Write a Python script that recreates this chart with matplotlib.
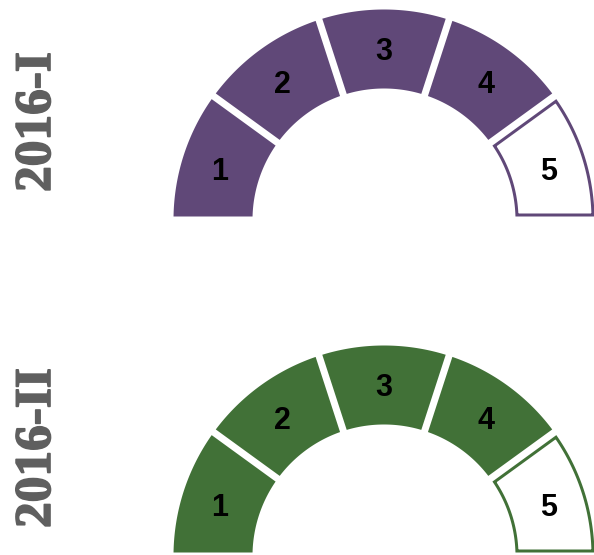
import numpy as np
import matplotlib
matplotlib.use("Agg")
import matplotlib.pyplot as plt
import matplotlib.patheffects as pe
from matplotlib.patches import Polygon

# data
periods = ["2016-I", "2016-II"]
levels = [4, 4]            # number of filled segments
segment_labels = ["1", "2", "3", "4", "5"]
colors = ["#604878", "#417137"]

W, H = 594, 555
fig = plt.figure(figsize=(W / 100, H / 100), dpi=100)
ax = fig.add_axes([0, 0, 1, 1])
ax.set_xlim(0, W)
ax.set_ylim(0, H)
ax.axis("off")

px = 72 / 100  # points per pixel


def segment(cx, cy, a1, a2, r_in, r_out, d):
    # ring segment inset by d pixels from every side
    ro, ri = r_out - d, r_in + d
    t_out = np.linspace(a1 + np.arcsin(d / ro), a2 - np.arcsin(d / ro), 60)
    t_in = np.linspace(a2 - np.arcsin(d / ri), a1 + np.arcsin(d / ri), 60)
    xs = np.concatenate([ro * np.cos(t_out), ri * np.cos(t_in)]) + cx
    ys = np.concatenate([ro * np.sin(t_out), ri * np.sin(t_in)]) + cy
    return np.column_stack([xs, ys])


cx = 384
centers_y = [335, -1]
r_in, r_out = 128, 214
gap = 3.5
n = len(segment_labels)

for period, level, color, cy in zip(periods, levels, colors, centers_y):
    for i, lab in enumerate(segment_labels):
        a1 = np.pi - np.pi * (i + 1) / n
        a2 = np.pi - np.pi * i / n
        if i < level:
            pts = segment(cx, cy, a1, a2, r_in, r_out, gap)
            ax.add_patch(Polygon(pts, closed=True, facecolor=color,
                                 edgecolor="none"))
        else:
            pts = segment(cx, cy, a1, a2, r_in, r_out, gap + 1.5)
            ax.add_patch(Polygon(pts, closed=True, facecolor="white",
                                 edgecolor=color, linewidth=3 * px))
        am = (a1 + a2) / 2
        rm = 173
        ax.text(cx + rm * np.cos(am), cy + rm * np.sin(am) - 5, lab,
                ha="center", va="center", fontsize=22, fontweight="bold",
                family="Liberation Sans", color="black")
    ax.text(38, cy + 28, period, rotation=90, ha="center", va="bottom",
            fontsize=37, fontweight="bold", family="Liberation Serif",
            color="#5f5f5f",
            path_effects=[pe.withStroke(linewidth=1.2, foreground="#5f5f5f")])

fig.savefig("out.png", dpi=100)
